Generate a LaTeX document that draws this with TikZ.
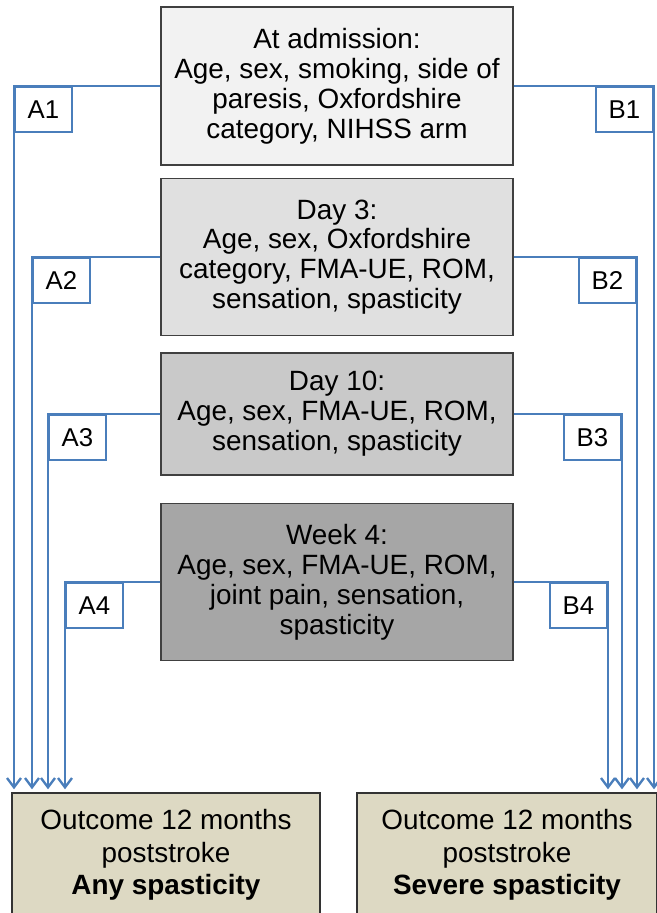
\documentclass[tikz,border=0pt]{standalone}
\usepackage{fontspec}
\setmainfont{Liberation Sans}
\usetikzlibrary{arrows.meta, positioning}

\definecolor{lineblue}{HTML}{4A7EBB}
\definecolor{outtan}{HTML}{DDD9C3}

\begin{document}
\begin{tikzpicture}[x=0.03cm, y=-0.03cm, >={Straight Barb[length=0.28cm, width=0.42cm]},
  stagebox/.style={draw=black!75, line width=1.2pt, minimum width=10.56cm,
        align=center, font=\fontsize{23.8}{25.5}\selectfont},
  outbox/.style={draw=black!80, line width=1.2pt, fill=outtan,
        minimum height=3.72cm, align=center, font=\fontsize{23.8}{27.8}\selectfont},
  tagbox/.style={draw=lineblue, line width=2pt, fill=white, minimum width=1.7cm,
        minimum height=1.35cm, font=\fontsize{22}{24}\selectfont},
  link/.style={draw=lineblue, line width=2pt, ->, shorten >=0.09cm}]
  \useasboundingbox (0,0) rectangle (657,913);

  % time points
  \node[stagebox, fill=black!5, minimum height=4.74cm] (adm) at (337,86)
    {At admission:\\Age, sex, smoking, side of\\paresis, Oxfordshire\\category, NIHSS arm};
  \node[stagebox, fill=black!12, minimum height=4.71cm] (day3) at (337,257)
    {Day 3:\\Age, sex, Oxfordshire\\category, FMA-UE, ROM,\\sensation, spasticity};
  \node[stagebox, fill=black!21, minimum height=3.66cm] (day10) at (337,414)
    {Day 10:\\Age, sex, FMA-UE, ROM,\\sensation, spasticity};
  \node[stagebox, fill=black!35, minimum height=4.71cm] (wk4) at (337,582)
    {Week 4:\\Age, sex, FMA-UE, ROM,\\joint pain, sensation,\\spasticity};

  % outcomes
  \node[outbox, minimum width=9.24cm] (outAny) at (166,855)
    {Outcome 12 months\\poststroke\\\textbf{Any spasticity}};
  \node[outbox, minimum width=9.0cm] (outSev) at (507,855)
    {Outcome 12 months\\poststroke\\\textbf{Severe spasticity}};

  % model labels
  \node[tagbox, anchor=north west] (a1) at (14,86) {A1};
  \node[tagbox, anchor=north west] (a2) at (32,257) {A2};
  \node[tagbox, anchor=north west] (a3) at (48,414) {A3};
  \node[tagbox, anchor=north west] (a4) at (65,582) {A4};
  \node[tagbox, anchor=north east] (b1) at (654,86) {B1};
  \node[tagbox, anchor=north east] (b2) at (637,257) {B2};
  \node[tagbox, anchor=north east] (b3) at (622,414) {B3};
  \node[tagbox, anchor=north east] (b4) at (608,582) {B4};

  % arrows to outcomes
  \draw[link] (adm.west) -- (a1.north west) -- (a1.west |- outAny.north);
  \draw[link] (day3.west) -- (a2.north west) -- (a2.west |- outAny.north);
  \draw[link] (day10.west) -- (a3.north west) -- (a3.west |- outAny.north);
  \draw[link] (wk4.west) -- (a4.north west) -- (a4.west |- outAny.north);
  \draw[link] (adm.east) -- (b1.north east) -- (b1.east |- outSev.north);
  \draw[link] (day3.east) -- (b2.north east) -- (b2.east |- outSev.north);
  \draw[link] (day10.east) -- (b3.north east) -- (b3.east |- outSev.north);
  \draw[link] (wk4.east) -- (b4.north east) -- (b4.east |- outSev.north);
\end{tikzpicture}
\end{document}
